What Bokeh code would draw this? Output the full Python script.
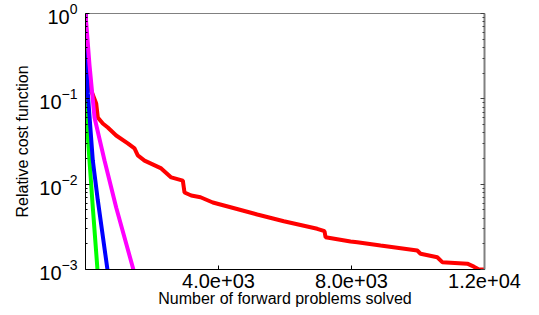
from bokeh.plotting import figure
from bokeh.models import (Range1d, FixedTicker, CustomJSTickFormatter, LogAxis, LogTickFormatter)
from bokeh.embed import file_html
from bokeh.resources import INLINE

# Data
red_x = [0, 60, 171, 322, 370, 520, 671, 923, 1272, 1474, 1573, 1775, 2277, 2578, 2927, 2978, 3180, 3459,
         3829, 4362, 5165, 5965, 6970, 7189, 7219, 7971, 8173, 8874, 9978, 10077, 10580, 10730, 11482, 11681,
         11832, 12000]
red_y = [1.0, 0.25, 0.125, 0.0881, 0.0604, 0.0514, 0.0461, 0.0372, 0.0300, 0.0262, 0.0217, 0.0189, 0.0153,
         0.0120, 0.0110, 0.00798, 0.00736, 0.00703, 0.00610, 0.00537, 0.00441, 0.00368, 0.00300, 0.00281,
         0.00239, 0.00213, 0.00209, 0.00191, 0.00167, 0.00153, 0.00139, 0.00122, 0.00117, 0.00108, 0.0010,
         0.0010]
magenta_x = [0, 120, 271, 572, 923, 1440]
magenta_y = [1.0, 0.25, 0.0604, 0.0189, 0.00533, 0.001]
blue_x = [0, 10, 70, 220, 370, 660]
blue_y = [1.0, 0.37, 0.115, 0.0189, 0.0065, 0.001]
green_x = [0, 5, 20, 120, 220, 360]
green_y = [1.0, 0.233, 0.073, 0.0189, 0.00533, 0.001]

x_ticks = [4000, 8000, 12000]
y_ticks = [1e-3, 1e-2, 1e-1, 1e0]
y_minor = [m * 10.0 ** k for k in (-3, -2, -1) for m in range(2, 10)]

FONT = "Liberation Sans"

p = figure(width=539, height=315, y_axis_type="log", output_backend="svg", toolbar_location=None,
           x_range=Range1d(0, 12000), y_range=Range1d(1e-3, 1e0),
           min_border_left=85, min_border_top=13, min_border_right=55, min_border_bottom=46)
p.xgrid.visible = False
p.ygrid.visible = False
p.outline_line_color = "#808080"
p.outline_line_width = 1
p.background_fill_color = "white"
p.border_fill_color = "white"

p.line(red_x, red_y, color="#ff0000", line_width=4)
p.line(green_x, green_y, color="#00ff00", line_width=4)
p.line(blue_x, blue_y, color="#0000ff", line_width=4)
p.line(magenta_x, magenta_y, color="#ff00ff", line_width=4)

xa = p.xaxis[0]
xa.ticker = FixedTicker(ticks=x_ticks)
xa.formatter = CustomJSTickFormatter(code="""
const e = tick.toExponential(1);
const parts = e.split('e');
let ex = parts[1];
const sign = ex[0];
let d = ex.slice(1);
if (d.length < 2) d = '0' + d;
return parts[0] + 'e' + sign + d;
""")
xa.major_tick_in = 4
xa.major_tick_out = 0
xa.minor_tick_in = 0
xa.minor_tick_out = 0
xa.axis_line_color = "black"
xa.major_label_text_font = FONT
xa.major_label_text_font_size = "20px"
xa.major_label_text_color = "black"
xa.major_label_standoff = 4
xa.axis_label = "Number of forward problems solved"
xa.axis_label_text_font = FONT
xa.axis_label_text_font_size = "16px"
xa.axis_label_text_font_style = "normal"
xa.axis_label_text_color = "black"
xa.axis_label_standoff = -1

ya = p.yaxis[0]
ya.ticker = FixedTicker(ticks=y_ticks, minor_ticks=y_minor)
ya.formatter = LogTickFormatter()
ya.major_tick_in = 4
ya.major_tick_out = 0
ya.minor_tick_in = 2
ya.minor_tick_out = 0
ya.axis_line_color = "black"
ya.major_label_text_font = FONT
ya.major_label_text_font_size = "20px"
ya.major_label_text_color = "black"
ya.major_label_standoff = 8
ya.axis_label = "Relative cost function"
ya.axis_label_text_font = FONT
ya.axis_label_text_font_size = "16px"
ya.axis_label_text_font_style = "normal"
ya.axis_label_text_color = "black"
ya.axis_label_standoff = 5

ra = LogAxis(ticker=FixedTicker(ticks=y_ticks, minor_ticks=y_minor),
             formatter=CustomJSTickFormatter(code="return '';"),
             major_tick_in=4, major_tick_out=0, minor_tick_in=2, minor_tick_out=0,
             axis_line_color="#808080", axis_line_width=2, major_tick_line_color="#404040",
             minor_tick_line_color="#404040", major_label_standoff=0)
p.add_layout(ra, "right")

open("out.html", "w").write(file_html(p, INLINE))
